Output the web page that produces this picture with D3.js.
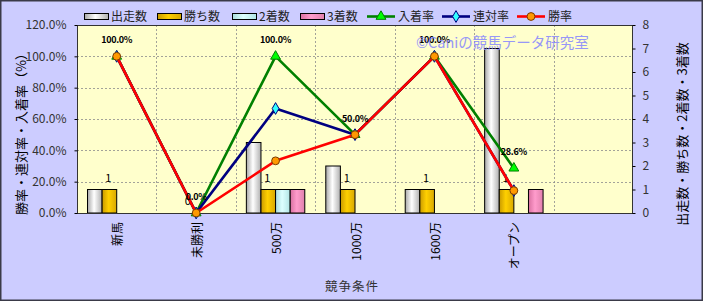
<!DOCTYPE html>
<html>
<head>
<meta charset="utf-8">
<script src="https://cdn.jsdelivr.net/npm/d3@7"></script>
<style>
  body { margin: 0; background: #fff; }
  text { font-family: "Noto Sans CJK JP", "DejaVu Sans", sans-serif; }
</style>
</head>
<body>
<div id="chart"></div>
<script>
// 競争条件ごとの成績
const categories = ['新馬', '未勝利', '500万', '1000万', '1600万', 'オープン', '']
const starts = [1, 0, 3, 2, 1, 7]       // 出走数
const wins = [1, 0, 1, 1, 1, 1]         // 勝ち数
const seconds = [0, 0, 1, 0, 0, 0]      // 2着数
const thirds = [0, 0, 1, 0, 0, 1]       // 3着数
const placeRate = [100, 0, 100, 50, 100, 28.6]   // 入着率
const rentaiRate = [100, 0, 66.7, 50, 100, 14.3] // 連対率
const winRate = [100, 0, 33.3, 50, 100, 14.3]    // 勝率
const leftTicks = [0, 20, 40, 60, 80, 100, 120]
const rightTicks = [0, 1, 2, 3, 4, 5, 6, 7, 8]

const width = 703
const height = 301
const plot = {left: 77, right: 633, top: 25, bottom: 213}

const barSeries = [
    {name: '出走数', values: starts, grad: 'gWhite'},
    {name: '勝ち数', values: wins, grad: 'gGold'},
    {name: '2着数', values: seconds, grad: 'gCyan'},
    {name: '3着数', values: thirds, grad: 'gPink'}
]
const lineSeries = [
    {name: '入着率', values: placeRate, stroke: '#008000', fill: '#00ff00', mark: d3.symbolTriangle, size: 42},
    {name: '連対率', values: rentaiRate, stroke: '#000080', fill: '#33ffff', mark: d3.symbolDiamond, size: 40},
    {name: '勝率', values: winRate, stroke: '#ff0000', fill: '#ff9900', mark: d3.symbolCircle, size: 48}
]

const svg = d3.select('#chart').append('svg')
    .attr('width', width)
    .attr('height', height)

// gradients for the cylinder-like bars
const defs = svg.append('defs')
const grads = [
    ['gWhite', '#a8a8a8', '#ffffff', '#b0b0b0'],
    ['gGold', '#c99a00', '#ffd000', '#d8a800'],
    ['gCyan', '#a8dcdc', '#ddffff', '#b0e4e4'],
    ['gPink', '#d86fa0', '#ff9ccc', '#e080ac']
]
grads.forEach(g => {
    const lg = defs.append('linearGradient').attr('id', g[0])
        .attr('x1', '0%').attr('x2', '100%').attr('y1', '0%').attr('y2', '0%')
    lg.append('stop').attr('offset', '0%').attr('stop-color', g[1])
    lg.append('stop').attr('offset', '45%').attr('stop-color', g[2])
    lg.append('stop').attr('offset', '100%').attr('stop-color', g[3])
})

// chart background + frame
svg.append('rect')
    .attr('x', 0.75).attr('y', 0.75)
    .attr('width', width - 1.5).attr('height', height - 1.5)
    .attr('fill', '#ccccff')
    .attr('stroke', '#3a3a48')
    .attr('stroke-width', 1.5)

svg.append('rect')
    .attr('x', plot.left).attr('y', plot.top)
    .attr('width', plot.right - plot.left).attr('height', plot.bottom - plot.top)
    .attr('fill', '#ffffcc')

let xScale = d3.scaleBand()
    .domain(categories)
    .range([plot.left, plot.right])

let xSub = d3.scaleBand()
    .domain(barSeries.map(s => s.name))
    .range([10.5, xScale.bandwidth() - 10.5])

let yLeft = d3.scaleLinear()
    .domain([0, 120])
    .range([plot.bottom, plot.top])

let yRight = d3.scaleLinear()
    .domain([0, 8])
    .range([plot.bottom, plot.top])

// dotted grid
const grid = svg.append('g')
    .attr('stroke', '#8c8c8c')
    .attr('stroke-width', 0.8)
    .attr('stroke-dasharray', '2,2')
grid.selectAll('line.h')
    .data(leftTicks.slice(1, -1))
    .join('line')
    .attr('class', 'h')
    .attr('x1', plot.left).attr('x2', plot.right)
    .attr('y1', d => Math.round(yLeft(d)) + 0.5)
    .attr('y2', d => Math.round(yLeft(d)) + 0.5)
grid.selectAll('line.v')
    .data(categories.slice(1))
    .join('line')
    .attr('class', 'v')
    .attr('y1', plot.top).attr('y2', plot.bottom)
    .attr('x1', d => Math.round(xScale(d)) + 0.5)
    .attr('x2', d => Math.round(xScale(d)) + 0.5)

// bars
barSeries.forEach(s => {
    svg.append('g').selectAll('rect')
        .data(s.values.map((v, i) => ({cat: categories[i], v: v})).filter(d => d.v > 0))
        .join('rect')
        .attr('x', d => xScale(d.cat) + xSub(s.name))
        .attr('width', xSub.bandwidth())
        .attr('y', d => yRight(d.v))
        .attr('height', d => yRight(0) - yRight(d.v))
        .attr('fill', `url(#${s.grad})`)
        .attr('stroke', '#000')
        .attr('stroke-width', 1)
})

// data labels on 勝ち数
svg.append('g').selectAll('text')
    .data(wins.map((v, i) => ({cat: categories[i], v: v})))
    .join('text')
    .attr('x', d => xScale(d.cat) + xSub('勝ち数') + xSub.bandwidth() / 2 - 1)
    .attr('y', d => yRight(d.v) - 8)
    .attr('text-anchor', 'middle')
    .attr('font-size', 11)
    .attr('font-family', 'Liberation Sans, Arial, sans-serif')
    .text(d => d.v)

// plot frame
svg.append('rect')
    .attr('x', plot.left + 0.5).attr('y', plot.top + 0.5)
    .attr('width', plot.right - plot.left - 1).attr('height', plot.bottom - plot.top)
    .attr('fill', 'none')
    .attr('stroke', '#333')
    .attr('stroke-width', 1)

// lines + markers
const cx = c => xScale(c) + xScale.bandwidth() / 2
lineSeries.forEach(s => {
    const pts = s.values.map((v, i) => ({cat: categories[i], v: v}))
    svg.append('path')
        .datum(pts)
        .attr('fill', 'none')
        .attr('stroke', s.stroke)
        .attr('stroke-width', 2.6)
        .attr('stroke-linejoin', 'round')
        .attr('d', d3.line().x(d => cx(d.cat)).y(d => yLeft(d.v)))
    svg.append('g').selectAll('path')
        .data(pts)
        .join('path')
        .attr('transform', d => `translate(${cx(d.cat)},${yLeft(d.v)})`)
        .attr('d', d3.symbol().type(s.mark).size(s.size))
        .attr('fill', s.fill)
        .attr('stroke', s.stroke === '#ff0000' ? '#7a3a00' : s.stroke)
        .attr('stroke-width', 1)
})

// data labels on 入着率
svg.append('g').selectAll('text')
    .data(placeRate.map((v, i) => ({cat: categories[i], v: v})))
    .join('text')
    .attr('x', d => cx(d.cat))
    .attr('y', d => yLeft(d.v) - 13)
    .attr('text-anchor', 'middle')
    .attr('font-size', 9)
    .attr('font-weight', 'bold')
    .attr('font-family', 'Liberation Sans, Arial, sans-serif')
    .attr('letter-spacing', -0.3)
    .text(d => d.v.toFixed(1) + '%')

// watermark
svg.append('text')
    .attr('x', 416).attr('y', 48)
    .attr('font-size', 14.5)
    .attr('fill', '#8585ff')
    .attr('opacity', 0.85)
    .text('©Caniの競馬データ研究室')

// axes
let yAxisLeft = d3.axisLeft(yLeft)
    .tickValues(leftTicks)
    .tickSize(3)
    .tickFormat(d => d.toFixed(1) + '%')
let yAxisRight = d3.axisRight(yRight)
    .tickValues(rightTicks)
    .tickSize(3)

const la = svg.append('g')
    .attr('transform', `translate(${plot.left + 0.5},0)`)
    .call(yAxisLeft)
la.select('.domain').remove()
la.selectAll('text').attr('x', -11).attr('font-size', 12).attr('fill', '#333')
    .attr('font-family', 'Liberation Sans, Arial, sans-serif')

const ra = svg.append('g')
    .attr('transform', `translate(${plot.right - 0.5},0)`)
    .call(yAxisRight)
ra.select('.domain').remove()
ra.selectAll('text').attr('x', 10).attr('font-size', 12).attr('fill', '#333')
    .attr('font-family', 'Liberation Sans, Arial, sans-serif')

// category labels, rotated
svg.append('g').selectAll('text')
    .data(categories.filter(c => c !== ''))
    .join('text')
    .attr('transform', d => `translate(${cx(d)},222) rotate(-90)`)
    .attr('text-anchor', 'end')
    .attr('dominant-baseline', 'central')
    .attr('font-size', 12)
    .attr('fill', '#000')
    .text(d => d)

// axis titles
svg.append('text')
    .attr('transform', 'translate(20,131) rotate(-90)')
    .attr('text-anchor', 'middle')
    .attr('dominant-baseline', 'central')
    .attr('font-size', 13)
    .text('勝率・連対率・入着率（%）')

svg.append('text')
    .attr('transform', 'translate(681,134) rotate(-90)')
    .attr('text-anchor', 'middle')
    .attr('dominant-baseline', 'central')
    .attr('font-size', 13)
    .text('出走数・勝ち数・2着数・3着数')

svg.append('text')
    .attr('x', 352).attr('y', 291)
    .attr('text-anchor', 'middle')
    .attr('font-size', 12.5)
    .attr('letter-spacing', 1)
    .attr('fill', '#333')
    .text('競争条件')

// legend
const legendBars = [84, 157, 232, 300]
const legendLines = [367, 442, 517]
const lg = svg.append('g')
barSeries.forEach((s, i) => {
    lg.append('rect')
        .attr('x', legendBars[i] + 0.5).attr('y', 13.5)
        .attr('width', 24).attr('height', 6)
        .attr('fill', `url(#${s.grad})`)
        .attr('stroke', '#000')
    lg.append('text')
        .attr('x', legendBars[i] + 27).attr('y', 21)
        .attr('font-size', 12)
        .attr('fill', '#222')
        .text(s.name)
})
lineSeries.forEach((s, i) => {
    lg.append('line')
        .attr('x1', legendLines[i]).attr('x2', legendLines[i] + 28)
        .attr('y1', 16.5).attr('y2', 16.5)
        .attr('stroke', s.stroke)
        .attr('stroke-width', 2.6)
    lg.append('path')
        .attr('transform', `translate(${legendLines[i] + 14},16.5)`)
        .attr('d', d3.symbol().type(s.mark).size(s.size))
        .attr('fill', s.fill)
        .attr('stroke', s.stroke === '#ff0000' ? '#7a3a00' : s.stroke)
    lg.append('text')
        .attr('x', legendLines[i] + 31).attr('y', 21)
        .attr('font-size', 12)
        .attr('fill', '#222')
        .text(s.name)
})
</script>
</body>
</html>
